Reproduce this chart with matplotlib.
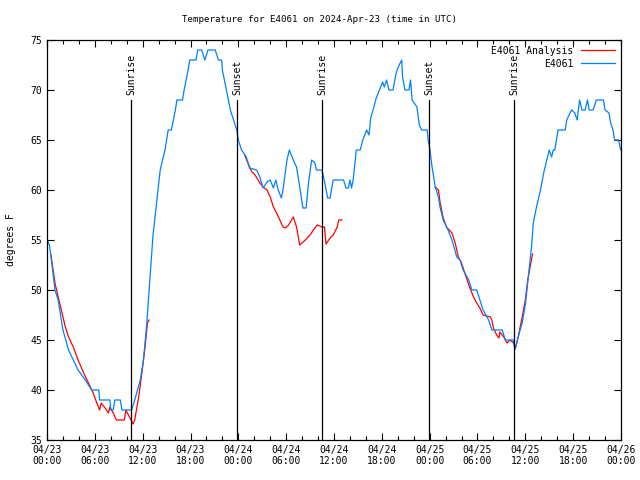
import numpy as np
import matplotlib
matplotlib.use("Agg")
import matplotlib.pyplot as plt
from matplotlib.ticker import MultipleLocator

# ---- data (hours since 2024-04-23 00:00 UTC) ----
obs_hours = [0.0, 0.3, 0.6, 1.0, 1.4, 2.0, 2.7, 3.3, 3.9, 4.8, 5.6, 6.5, 6.6, 7.9, 8.0, 8.3, 8.5, 9.2,
             9.4, 10.6, 11.0, 11.7, 12.1, 12.5, 12.9, 13.3, 14.2, 14.8, 15.2, 15.6, 16.1, 16.3, 17.0,
             17.2, 17.7, 17.9, 18.7, 18.9, 19.4, 19.8, 20.2, 21.1, 21.5, 21.9, 22.0, 22.5, 23.0, 23.4,
             23.8, 24.0, 24.4, 25.0, 25.4, 26.3, 26.7, 27.1, 27.6, 28.0, 28.4, 28.7, 29.0, 29.4, 29.6,
             30.1, 30.4, 30.9, 31.3, 31.7, 32.1, 32.5, 32.8, 33.2, 33.6, 33.8, 34.5, 34.9, 35.2, 35.5,
             35.9, 37.2, 37.5, 37.8, 38.0, 38.2, 38.4, 38.8, 39.3, 39.6, 40.1, 40.4, 40.6, 40.9, 41.3,
             41.7, 42.1, 42.3, 42.6, 42.9, 43.4, 43.7, 43.9, 44.3, 44.5, 44.6, 44.9, 45.4, 45.6, 45.8,
             46.4, 46.7, 47.0, 47.7, 47.8, 48.0, 48.3, 48.7, 49.1, 49.3, 49.7, 50.3, 50.8, 51.4, 51.8,
             52.2, 52.9, 53.3, 53.9, 54.3, 54.7, 55.4, 55.8, 57.1, 57.5, 58.5, 58.7, 59.0, 59.6, 60.0,
             60.4, 60.8, 61.0, 61.4, 61.9, 62.3, 62.7, 63.0, 63.3, 63.5, 63.7, 64.1, 65.0, 65.2, 65.6,
             65.8, 66.2, 66.5, 66.8, 67.1, 67.5, 67.8, 68.0, 68.5, 68.9, 69.8, 70.0, 70.5, 70.7, 71.0,
             71.2, 71.7, 71.9, 72.0]
obs_temps = [55, 54.5, 52.7, 50, 49, 46, 44, 43, 42, 41, 40, 40, 39, 39, 38, 38, 39, 39,
             38, 38, 39, 41, 43, 46.5, 51, 55.5, 62, 64, 66, 66, 68, 69, 69,
             70, 72, 73, 73, 74, 74, 73, 74, 74, 73, 73, 72, 70, 68, 67,
             66, 65, 64, 63.3, 62.2, 62, 61.3, 60.2, 60.8, 61, 60.2, 61, 60, 59.2, 60,
             63, 64, 63, 62.3, 60.3, 58.2, 58.2, 60.7, 63, 62.7, 62, 62, 60.5, 59.2, 59.2,
             61, 61, 60.2, 60.2, 61, 60.2, 61, 64, 64, 65, 66, 65.5, 67.2, 68, 69.2,
             70, 70.8, 70.3, 71, 70, 70, 71.3, 72, 72.7, 73, 71.3, 70, 70, 71, 69,
             68.3, 66.5, 66, 66, 65, 64.2, 62.3, 60.3, 59.3, 58.3, 57, 56, 55, 53.3, 53,
             52, 51, 50, 50, 49, 48, 47, 46, 46, 45, 45, 44, 45, 46.7, 48.5,
             51.5, 54.5, 56.7, 58.3, 60, 61.7, 63, 64, 63.3, 64, 64, 66, 66, 67, 67.7,
             68, 67.7, 67, 69, 68, 68, 69, 68, 68, 69, 69, 68, 67.7, 66.7, 66,
             65, 65, 64.2, 64]

ana_hours = [0.5, 1.0, 1.4, 1.8, 2.3, 2.7, 3.3, 3.9, 4.6, 5.2, 5.8, 6.2, 6.6, 6.8, 7.3, 7.7, 7.9,
             8.3, 8.7, 9.7, 9.9, 10.4, 10.8, 11.0, 11.5, 11.9, 12.3, 12.6, 12.8,
             18.0,
             24.8, 25.2, 25.7, 26.1, 26.7, 27.1, 27.6, 28.0, 28.4, 28.8, 29.2, 29.6, 29.9, 30.3,
             30.9, 31.3, 31.7, 32.4, 33.0, 33.4, 33.9, 34.5, 34.8, 35.0, 35.5, 35.9, 36.4, 36.6, 37.0,
             42.0,
             48.7, 49.1, 49.3, 49.7, 50.1, 50.8, 51.2, 51.6, 52.0, 52.4, 53.0, 53.5, 53.9, 54.3,
             54.7, 55.6, 55.8, 56.0, 56.4, 56.7, 56.8, 57.3, 57.7, 58.1, 58.5, 58.8, 59.1, 59.6,
             60.0, 60.3, 60.6, 60.9]
ana_temps = [53.5, 50.7, 49.3, 48, 46.3, 45.3, 44.3, 43, 41.7, 40.7, 39.7, 38.8, 38, 38.7, 38.2, 37.7, 38.3,
             37.7, 37, 37, 38, 37.2, 36.6, 37, 39.3, 41.7, 44.3, 46.7, 47,
             np.nan,
             63.5, 62.7, 61.8, 61.5, 60.7, 60.3, 60, 59.3, 58.3, 57.7, 57, 56.3, 56.2, 56.5,
             57.3, 56.3, 54.5, 55, 55.5, 56, 56.5, 56.3, 56.3, 54.6, 55.2, 55.5, 56.3, 57, 57,
             np.nan,
             60.3, 60, 58.8, 57.2, 56.3, 55.7, 54.7, 53.3, 52.7, 51.7, 50.3, 49.3, 48.7, 48.2,
             47.5, 47.3, 47, 46.2, 45.5, 45.2, 45.8, 45.3, 44.7, 45, 44.7, 44.3, 45.3, 47.3,
             49, 51, 52.3, 53.6]

sun_hours = [10.54, 23.83, 34.5, 47.92, 58.58]
sun_labels = ["Sunrise", "Sunset", "Sunrise", "Sunset", "Sunrise"]

xtick_hours = [0, 6, 12, 18, 24, 30, 36, 42, 48, 54, 60, 66, 72]
xtick_labels = ["04/23\n00:00", "04/23\n06:00", "04/23\n12:00", "04/23\n18:00",
                "04/24\n00:00", "04/24\n06:00", "04/24\n12:00", "04/24\n18:00",
                "04/25\n00:00", "04/25\n06:00", "04/25\n12:00", "04/25\n18:00",
                "04/26\n00:00"]
ytick_values = [35, 40, 45, 50, 55, 60, 65, 70, 75]

# ---- plot ----
plt.rcParams['font.family'] = ['DejaVu Sans Mono']
fs = 7
fig = plt.figure(figsize=(6.4, 4.8), dpi=100)
ax = fig.add_axes([47/640, 1-440/480, (621-47)/640, 400/480])

ax.plot(ana_hours, ana_temps, color='#ff0000', lw=0.9, label='E4061 Analysis')
ax.plot(obs_hours, obs_temps, color='#0080ff', lw=0.9, label='E4061')

for h, lab in zip(sun_hours, sun_labels):
    ax.plot([h, h], [35, 69], color='black', lw=0.9)
    ax.text(h, 69.5, lab, rotation=90, ha='center', va='bottom', fontsize=fs)

ax.set_xlim(0, 72)
ax.set_ylim(35, 75)
ax.set_xticks(xtick_hours)
ax.set_xticklabels(xtick_labels)
ax.xaxis.set_minor_locator(MultipleLocator(2))
ax.set_yticks(ytick_values)
ax.tick_params(axis='both', which='both', direction='in', top=True, right=True, labelsize=fs)
ax.tick_params(which='major', length=5, width=0.8)
ax.tick_params(which='minor', length=3, width=0.8)
for s in ax.spines.values():
    s.set_linewidth(0.9)

fig.text(0.5, 1 - 20/480, "Temperature for E4061 on 2024-Apr-23 (time in UTC)",
         fontsize=6.6, ha='center', va='center')
ax.set_ylabel("degrees F", fontsize=fs, labelpad=10)

leg = ax.legend(loc='upper right', frameon=False, fontsize=fs, markerfirst=False,
                handlelength=3.5, borderaxespad=0.2, labelspacing=0.3, handletextpad=0.8)

fig.savefig("out.png", dpi=100)
